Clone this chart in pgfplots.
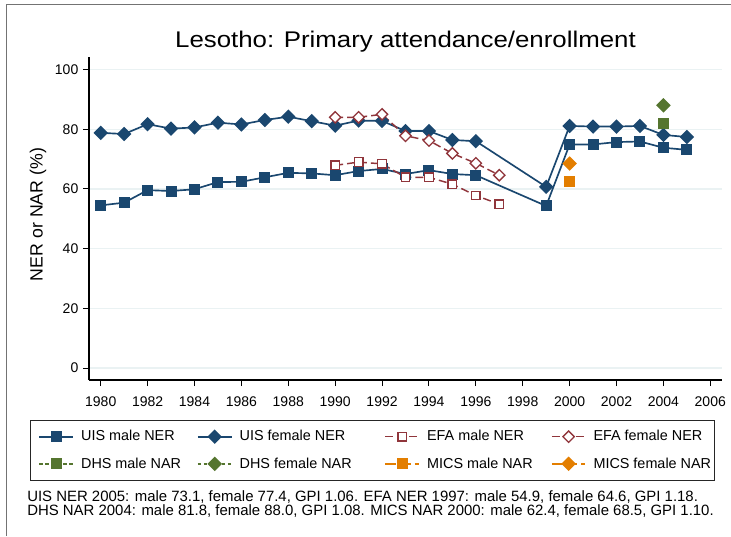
\documentclass[border=0pt]{standalone}
\usepackage{pgfplots}
\pgfplotsset{compat=1.18}
\usepackage{fontspec}
\setmainfont{Liberation Sans}
\newfontfamily\titlefont{Liberation Sans}[FakeStretch=1.14]
\definecolor{stnavy}{RGB}{26,71,111}
\definecolor{stmaroon}{RGB}{144,53,59}
\definecolor{stgreen}{RGB}{85,117,47}
\definecolor{storange}{RGB}{227,126,0}
\definecolor{stgrid}{RGB}{234,242,243}
\begin{document}
\begin{tikzpicture}
\useasboundingbox (0,0) rectangle (548.25pt,402pt);
\draw[black!55, line width=0.75pt] (4.5pt,0pt) -- (4.5pt,398.25pt) -- (548.25pt,398.25pt);
\node[anchor=base, inner sep=0pt, font=\titlefont\fontsize{17}{20}\selectfont] at (304.1pt,366.5pt) {Lesotho: Primary attendance/enrollment};
\node[rotate=90, inner sep=0pt, font=\fontsize{13.3}{16}\selectfont] at (28.5pt,241.1pt) {NER or NAR (\%)};
\begin{axis}[
 at={(66.75pt,117pt)}, anchor=south west,
 scale only axis, width=474.75pt, height=242.25pt,
 xmin=1979.5, xmax=2006.5, ymin=-4, ymax=104.2,
 enlargelimits=false,
 axis lines*=left,
 axis line style={line width=0.9pt, black},
 xtick={1980,1982,...,2006}, ytick={0,20,...,100},
 tick align=outside, major tick length=4.5pt,
 tick style={line width=0.75pt, black},
 ymajorgrids, grid style={stgrid, line width=1.1pt},
 /pgf/number format/assume math mode=true,
 /pgf/number format/1000 sep={},
 tick label style={font=\fontsize{10.5}{12}\selectfont},
 xticklabel style={yshift=-4.5pt},
 clip=false,
 legend columns=4,
 legend style={at={(-0.0932,-0.1238)}, anchor=north west, draw=black!85, line width=0.75pt,
   inner xsep=6pt, inner ysep=7.5pt, font=\fontsize{10.8}{13}\selectfont, row sep=11pt,
   nodes={inner sep=0pt},
   /tikz/every odd column/.append style={column sep=5.5pt}},
 legend cell align=left,
 legend image code/.code={\draw[mark repeat=2,mark phase=2,#1] plot coordinates {(0pt,0pt) (12.6pt,0pt) (25.2pt,0pt)};},
]
\addplot[stnavy, line width=1.25pt, mark=square*, mark size=3.5pt] coordinates {
(1980,54.5) (1981,55.4) (1982,59.6) (1983,59.3) (1984,59.9) (1985,62.3) (1986,62.4)
(1987,63.9) (1988,65.4) (1989,65.2) (1990,64.6) (1991,66.0) (1992,66.7) (1993,65.0)
(1994,66.3) (1995,65.0) (1996,64.6) (1999,54.3) (2000,74.9) (2001,74.9) (2002,75.7)
(2003,75.9) (2004,73.8) (2005,73.1)};
\addlegendentry{\makebox[87pt][l]{UIS male NER}}
\addplot[stnavy, line width=1.25pt, mark=square*, mark size=3.2pt, mark options={rotate=45}] coordinates {
(1980,78.8) (1981,78.4) (1982,81.7) (1983,80.2) (1984,80.6) (1985,82.2) (1986,81.6)
(1987,83.1) (1988,84.2) (1989,82.7) (1990,81.2) (1991,82.9) (1992,82.8) (1993,79.4)
(1994,79.4) (1995,76.4) (1996,76.0) (1999,60.7) (2000,81.1) (2001,80.9) (2002,80.9)
(2003,81.1) (2004,78.1) (2005,77.4)};
\addlegendentry{\makebox[108.75pt][l]{UIS female NER}}
\addplot[stmaroon, line width=1.1pt, dash pattern=on 6pt off 3pt, mark=square*, mark size=3.2pt, mark options={solid, fill=white, draw=stmaroon, line width=1pt}] coordinates {
(1990,67.9) (1991,69.0) (1992,68.4) (1993,63.9) (1994,63.9) (1995,61.6) (1996,57.8) (1997,54.9)};
\addlegendentry{\makebox[93pt][l]{EFA male NER}}
\addplot[stmaroon, line width=1.1pt, dash pattern=on 6pt off 3pt, mark=square*, mark size=3.0pt, mark options={solid, fill=white, draw=stmaroon, line width=1pt, rotate=45}] coordinates {
(1990,84.0) (1991,84.0) (1992,85.0) (1993,77.8) (1994,76.2) (1995,71.9) (1996,68.6) (1997,64.6)};
\addlegendentry{\makebox[85pt][l]{EFA female NER}}
\addplot[stgreen, line width=1.1pt, dash pattern=on 2.5pt off 2pt, mark=square*, mark size=3.5pt, mark options={solid}] coordinates {(2004,81.8)};
\addlegendentry{\makebox[87pt][l]{DHS male NAR}}
\addplot[stgreen, line width=1.1pt, dash pattern=on 2.5pt off 2pt, mark=square*, mark size=3.3pt, mark options={solid, rotate=45}] coordinates {(2004,88.0)};
\addlegendentry{\makebox[108.75pt][l]{DHS female NAR}}
\addplot[storange, line width=1.1pt, dash pattern=on 8pt off 3pt, mark=square*, mark size=3.5pt, mark options={solid}] coordinates {(2000,62.4)};
\addlegendentry{\makebox[93pt][l]{MICS male NAR}}
\addplot[storange, line width=1.1pt, dash pattern=on 8pt off 3pt, mark=square*, mark size=3.3pt, mark options={solid, rotate=45}] coordinates {(2000,68.5)};
\addlegendentry{\makebox[85pt][l]{MICS female NAR}}
\end{axis}
\node[anchor=base west, inner sep=0pt, font=\fontsize{11.2}{13}\selectfont] at (20.25pt,25.9pt) {UIS NER 2005: male 73.1, female 77.4, GPI 1.06. EFA NER 1997: male 54.9, female 64.6, GPI 1.18.};
\node[anchor=base west, inner sep=0pt, font=\fontsize{11.2}{13}\selectfont] at (20.25pt,15.6pt) {DHS NAR 2004: male 81.8, female 88.0, GPI 1.08. MICS NAR 2000: male 62.4, female 68.5, GPI 1.10.};
\end{tikzpicture}
\end{document}
